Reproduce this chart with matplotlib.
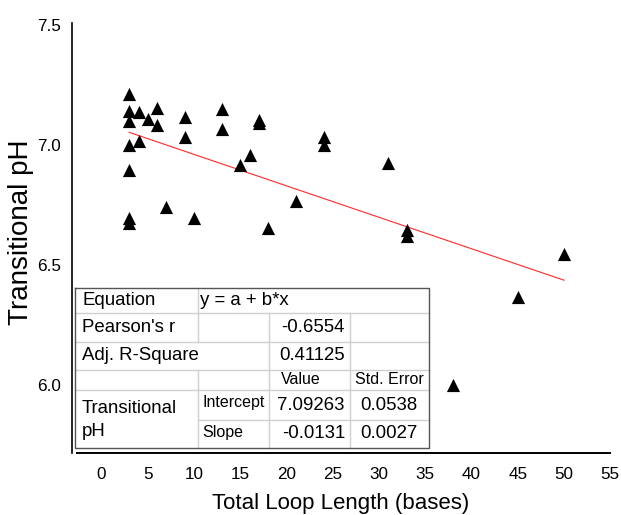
import matplotlib
matplotlib.use("Agg")
import matplotlib.pyplot as plt
import numpy as np

plt.rcParams['font.family'] = ['Liberation Sans', 'DejaVu Sans']

# data
loop_length = [3, 3, 4, 6, 5, 3, 6, 9, 13, 13, 17, 17, 9, 3, 4, 3, 16, 15,
               24, 24, 31, 7, 3, 3, 10, 18, 21, 33, 33, 50, 45, 38]
trans_ph = [7.215, 7.143, 7.139, 7.156, 7.111, 7.101, 7.085, 7.118, 7.152, 7.067,
            7.104, 7.092, 7.035, 7.001, 7.018, 6.898, 6.960, 6.917,
            7.032, 7.001, 6.925, 6.741, 6.697, 6.674, 6.697, 6.654, 6.769,
            6.647, 6.623, 6.547, 6.367, 6.000]

# fit results shown in the table
intercept = 7.09263
intercept_err = 0.0538
slope = -0.0131
slope_err = 0.0027
pearson_r = -0.6554
adj_r2 = 0.41125
fit_range = [3, 50]

x_ticks = [0, 5, 10, 15, 20, 25, 30, 35, 40, 45, 50, 55]
y_ticks = [6.0, 6.5, 7.0, 7.5]

W, H = 621, 515
fig = plt.figure(figsize=(W / 100, H / 100), dpi=100)
ax = fig.add_axes([71.9 / W, 62 / H, (610.25 - 71.9) / W, (453 - 22.7) / H])

ax.scatter(loop_length, trans_ph, marker='^', s=90, c='black', linewidths=0, zorder=3)
fx = np.array(fit_range)
ax.plot(fx, intercept + slope * fx, color='#ff2a2a', lw=0.8, zorder=2)

ax.set_xlim(-3.2, 55)
ax.set_ylim(5.718, 7.51)
ax.set_xticks(x_ticks)
ax.set_yticks(y_ticks)
ax.set_yticklabels(['%.1f' % v for v in y_ticks])
ax.tick_params(length=0, labelsize=12.3)
ax.tick_params(axis='y', pad=8)
ax.tick_params(axis='x', pad=10)
ax.spines['top'].set_visible(False)
ax.spines['right'].set_visible(False)
ax.spines['left'].set_linewidth(1.2)
ax.spines['bottom'].set_linewidth(1.4)
ax.spines['bottom'].set_bounds(-2.65, 55)
ax.set_xlabel('Total Loop Length (bases)', fontsize=16, labelpad=8)
fig.text(21 / W, 1 - 232 / H, 'Transitional pH', fontsize=20, rotation=90,
         ha='center', va='center')

# results table, drawn in pixel coordinates on an overlay
tab = fig.add_axes([0, 0, 1, 1])
tab.set_xlim(0, W)
tab.set_ylim(H, 0)
tab.axis('off')

cols = [75, 197.5, 268.5, 350, 428.5]
rows = [288, 313, 341.5, 370, 390, 420, 448]
inner = '#d0d0d0'

tab.fill_between([cols[0], cols[-1]], rows[0], rows[-1], color='white', zorder=1)
for yy in rows[1:5]:
    tab.plot([cols[0], cols[-1]], [yy, yy], color=inner, lw=1, zorder=2)
tab.plot([cols[1], cols[-1]], [rows[5], rows[5]], color=inner, lw=1, zorder=2)
tab.plot([cols[1], cols[1]], [rows[0], rows[2]], color=inner, lw=1, zorder=2)
tab.plot([cols[1], cols[1]], [rows[3], rows[6]], color=inner, lw=1, zorder=2)
tab.plot([cols[2], cols[2]], [rows[1], rows[6]], color=inner, lw=1, zorder=2)
tab.plot([cols[3], cols[3]], [rows[1], rows[6]], color=inner, lw=1, zorder=2)
tab.plot([cols[0], cols[-1], cols[-1], cols[0], cols[0]],
         [rows[0], rows[0], rows[-1], rows[-1], rows[0]], color='#555555', lw=1, zorder=3)

big = 13.4
small = 11.5
mid = [(rows[i] + rows[i + 1]) / 2 for i in range(len(rows) - 1)]
tab.text(82, mid[0], 'Equation', fontsize=big, va='center')
tab.text(200, mid[0], 'y = a + b*x', fontsize=big, va='center')
tab.text(82, mid[1], "Pearson's r", fontsize=big, va='center')
tab.text(345, mid[1], '%.4f' % pearson_r, fontsize=big, va='center', ha='right')
tab.text(82, mid[2], 'Adj. R-Square', fontsize=big, va='center')
tab.text(345, mid[2], '%.5f' % adj_r2, fontsize=big, va='center', ha='right')
tab.text(281, mid[3] - 1, 'Value', fontsize=small, va='center')
tab.text(389, mid[3] - 1, 'Std. Error', fontsize=small, va='center', ha='center')
tab.text(82, (rows[4] + rows[6]) / 2 + 1, 'Transitional\npH', fontsize=big, va='center',
         linespacing=1.4)
tab.text(202, mid[4] - 2, 'Intercept', fontsize=small, va='center')
tab.text(345, mid[4], '%.5f' % intercept, fontsize=big, va='center', ha='right')
tab.text(389, mid[4], '%.4f' % intercept_err, fontsize=big, va='center', ha='center')
tab.text(202, mid[5] - 2, 'Slope', fontsize=small, va='center')
tab.text(345, mid[5], '%.4f' % slope, fontsize=big, va='center', ha='right')
tab.text(389, mid[5], '%.4f' % slope_err, fontsize=big, va='center', ha='center')

fig.savefig('out.png', dpi=100)
